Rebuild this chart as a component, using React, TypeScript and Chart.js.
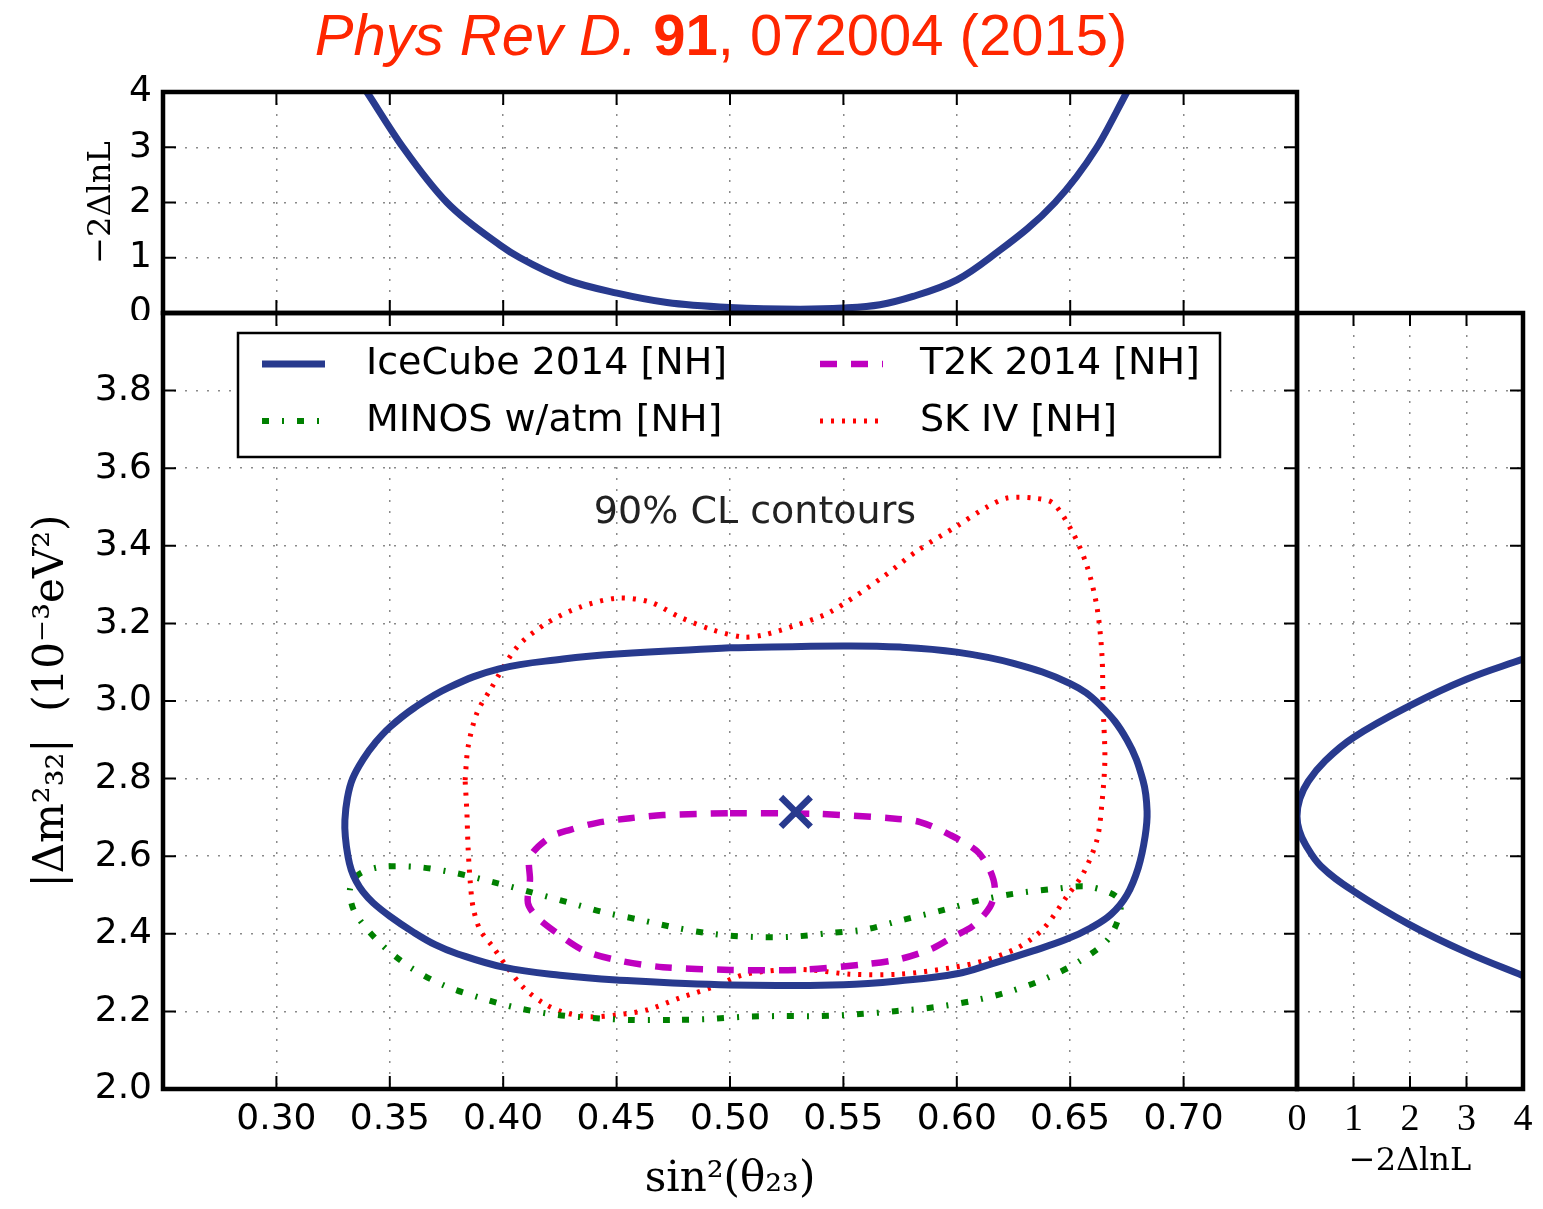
import React, { useEffect, useRef } from 'react';
import { Chart, registerables } from 'chart.js';

Chart.register(...registerables);
Chart.defaults.font.family = "'DejaVu Sans', sans-serif";
Chart.defaults.color = '#000';

// ---------- tick values ----------
const sinTicks = [0.30, 0.35, 0.40, 0.45, 0.50, 0.55, 0.60, 0.65, 0.70];
const dmTicks = [2.0, 2.2, 2.4, 2.6, 2.8, 3.0, 3.2, 3.4, 3.6, 3.8];
const llTicks = [0, 1, 2, 3, 4];

// ---------- best fit ----------
const bestFitS = [0.529];
const bestFitDm = [2.714];

// ---------- IceCube 2014 [NH] 90% contour ----------
const icecubeS = [0.500, 0.550, 0.575, 0.600, 0.625, 0.650, 0.6631, 0.675, 0.6821, 0.6839, 0.6830, 0.680, 0.675, 0.668, 0.659, 0.648, 0.6336, 0.615, 0.600, 0.575, 0.550, 0.500, 0.450, 0.425, 0.400, 0.380, 0.370, 0.3602, 0.3501, 0.3426, 0.3382, 0.3352, 0.3330, 0.3316, 0.3304, 0.3302, 0.3313, 0.3336, 0.3386, 0.3435, 0.3501, 0.3607, 0.3757, 0.3982, 0.4264, 0.450, 0.500];
const icecubeDm = [3.137, 3.142, 3.139, 3.126, 3.097, 3.045, 2.990, 2.900, 2.795, 2.716, 2.650, 2.570, 2.500, 2.450, 2.415, 2.385, 2.356, 2.322, 2.297, 2.279, 2.269, 2.268, 2.281, 2.293, 2.314, 2.348, 2.372, 2.405, 2.445, 2.480, 2.508, 2.535, 2.565, 2.598, 2.650, 2.693, 2.750, 2.800, 2.853, 2.892, 2.933, 2.982, 3.034, 3.083, 3.108, 3.121, 3.137];

// ---------- T2K 2014 [NH] ----------
const t2kS = [0.5000, 0.5384, 0.5705, 0.5838, 0.5970, 0.6089, 0.6146, 0.6168, 0.6146, 0.6071, 0.5983, 0.5895, 0.5750, 0.5604, 0.5309, 0.5000, 0.4705, 0.4502, 0.4352, 0.4237, 0.4149, 0.4109, 0.4118, 0.4118, 0.4206, 0.4295, 0.4414, 0.4559, 0.4705, 0.5000];
const t2kDm = [2.711, 2.709, 2.698, 2.688, 2.655, 2.613, 2.564, 2.515, 2.469, 2.420, 2.392, 2.363, 2.335, 2.322, 2.307, 2.307, 2.314, 2.332, 2.358, 2.402, 2.443, 2.479, 2.539, 2.598, 2.649, 2.668, 2.686, 2.698, 2.706, 2.711];

// ---------- MINOS w/atm [NH] ----------
const minosS = [0.4735, 0.4559, 0.4396, 0.4237, 0.4061, 0.3898, 0.3735, 0.3589, 0.3457, 0.3347, 0.3324, 0.3360, 0.3457, 0.3624, 0.3787, 0.3951, 0.4118, 0.4281, 0.4440, 0.4603, 0.4766, 0.4934, 0.5101, 0.5265, 0.5441, 0.5604, 0.5763, 0.5926, 0.6089, 0.6248, 0.6420, 0.6587, 0.6720, 0.6675, 0.6543, 0.6389, 0.6226, 0.6067, 0.5904, 0.5736, 0.5573, 0.5397, 0.5220, 0.5057, 0.4899, 0.4735];
const minosDm = [2.178, 2.178, 2.183, 2.191, 2.209, 2.235, 2.268, 2.314, 2.376, 2.454, 2.513, 2.552, 2.572, 2.572, 2.557, 2.534, 2.508, 2.482, 2.456, 2.436, 2.415, 2.399, 2.392, 2.392, 2.402, 2.412, 2.436, 2.459, 2.485, 2.503, 2.515, 2.521, 2.485, 2.392, 2.330, 2.284, 2.250, 2.227, 2.211, 2.201, 2.193, 2.188, 2.188, 2.186, 2.180, 2.178];

// ---------- SK IV [NH] ----------
const skS = [0.3832, 0.3845, 0.3884, 0.3942, 0.4061, 0.4193, 0.4339, 0.4502, 0.4647, 0.4780, 0.4925, 0.5057, 0.5146, 0.5295, 0.5441, 0.5675, 0.5825, 0.6001, 0.6133, 0.6221, 0.6336, 0.6424, 0.6512, 0.6574, 0.6618, 0.6640, 0.6645, 0.6653, 0.6640, 0.6618, 0.6556, 0.6486, 0.6380, 0.6265, 0.6116, 0.5970, 0.5750, 0.5529, 0.5353, 0.5220, 0.5057, 0.4925, 0.4780, 0.4634, 0.4502, 0.4383, 0.4264, 0.4175, 0.4087, 0.4017, 0.3955, 0.3898, 0.3867, 0.3854, 0.3845, 0.3840, 0.3832];
const skDm = [2.796, 2.881, 2.969, 3.028, 3.139, 3.201, 3.242, 3.265, 3.255, 3.216, 3.183, 3.165, 3.170, 3.196, 3.229, 3.320, 3.387, 3.451, 3.500, 3.523, 3.523, 3.510, 3.433, 3.348, 3.242, 3.119, 2.985, 2.851, 2.737, 2.642, 2.554, 2.497, 2.412, 2.363, 2.330, 2.312, 2.296, 2.296, 2.307, 2.307, 2.294, 2.263, 2.235, 2.204, 2.191, 2.186, 2.198, 2.222, 2.263, 2.314, 2.366, 2.410, 2.469, 2.539, 2.624, 2.711, 2.796];

// ---------- IceCube profile in sin^2 ----------
const profS = [0.3399, 0.3558, 0.3752, 0.3986, 0.4074, 0.4281, 0.4502, 0.4722, 0.5000, 0.5309, 0.5498, 0.5661, 0.5807, 0.6001, 0.6146, 0.6433, 0.6618, 0.6750];
const profSLL = [4.0, 3.0, 2.0, 1.23, 1.0, 0.60, 0.36, 0.19, 0.10, 0.07, 0.09, 0.15, 0.30, 0.60, 1.0, 2.0, 3.0, 4.0];

// ---------- IceCube profile in dm^2 ----------
const profDm = [3.108, 3.056, 2.988, 2.906, 2.846, 2.793, 2.748, 2.703, 2.666, 2.630, 2.575, 2.510, 2.423, 2.352, 2.292];
const profDmLL = [4.0, 3.0, 2.0, 1.0, 0.50, 0.20, 0.05, 0.0, 0.04, 0.15, 0.42, 1.0, 2.0, 3.0, 4.0];

const NAVY = '#283a8e';
const MAGENTA = '#bf00bf';
const GREEN = '#008000';
const RED = '#ff0000';
const GRIDC = '#8a8a8a';

const pts = (xs: number[], ys: number[]) => xs.map((x, i) => ({ x, y: ys[i] }));

const fixedAxis = (size: number, horizontal: boolean) => (s: any) => {
  if (horizontal) s.height = size; else s.width = size;
  s.paddingTop = 0; s.paddingBottom = 0; s.paddingLeft = 0; s.paddingRight = 0;
};
const setTicks = (vals: number[]) => (s: any) => { s.ticks = vals.map((v) => ({ value: v })); };

const gridOpts = { color: GRIDC, lineWidth: 1.5, drawTicks: false };
const borderOpts = { display: false, dash: [2, 9] };

function framePlugin(id: string, sides: { top?: boolean; bottom?: boolean; left?: boolean; right?: boolean }) {
  return {
    id,
    afterDraw(chart: any) {
      const { ctx, chartArea: a } = chart;
      const xs = chart.scales.x;
      const ys = chart.scales.y;
      const L = 13;
      ctx.save();
      ctx.setLineDash([]);
      ctx.strokeStyle = '#000';
      ctx.lineWidth = 2;
      ctx.beginPath();
      for (const t of xs.ticks) {
        const px = xs.getPixelForValue(t.value);
        if (sides.bottom) { ctx.moveTo(px, a.bottom); ctx.lineTo(px, a.bottom - L); }
        if (sides.top) { ctx.moveTo(px, a.top); ctx.lineTo(px, a.top + L); }
      }
      for (const t of ys.ticks) {
        const py = ys.getPixelForValue(t.value);
        if (sides.left) { ctx.moveTo(a.left, py); ctx.lineTo(a.left + L, py); }
        if (sides.right) { ctx.moveTo(a.right, py); ctx.lineTo(a.right - L, py); }
      }
      ctx.stroke();
      ctx.lineWidth = 4.5;
      ctx.strokeRect(a.left, a.top, a.right - a.left, a.bottom - a.top);
      ctx.restore();
    },
  };
}

const legendPlugin = {
  id: 'boxLegend',
  afterDatasetsDraw(chart: any) {
    const { ctx, chartArea: a } = chart;
    const ds = chart.data.datasets;
    ctx.save();
    const bx = a.left + 75, by = a.top + 20, bw = 982, bh = 124;
    ctx.fillStyle = '#fff';
    ctx.fillRect(bx, by, bw, bh);
    ctx.strokeStyle = '#000';
    ctx.lineWidth = 2.5;
    ctx.setLineDash([]);
    ctx.strokeRect(bx, by, bw, bh);
    const entries = [
      { i: 1, col: 0, row: 0 },
      { i: 2, col: 1, row: 0 },
      { i: 3, col: 0, row: 1 },
      { i: 4, col: 1, row: 1 },
    ];
    const colSample = [a.left + 99, a.left + 657];
    const colText = [a.left + 203, a.left + 757];
    const rowY = [a.top + 51, a.top + 108];
    for (const e of entries) {
      const d = ds[e.i];
      const y = rowY[e.row];
      ctx.beginPath();
      ctx.strokeStyle = d.borderColor;
      ctx.lineWidth = d.borderWidth;
      ctx.setLineDash(d.borderDash || []);
      ctx.moveTo(colSample[e.col], y);
      ctx.lineTo(colSample[e.col] + 63, y);
      ctx.stroke();
      ctx.setLineDash([]);
      ctx.fillStyle = '#000';
      ctx.font = "38px 'DejaVu Sans', sans-serif";
      ctx.textAlign = 'left';
      ctx.textBaseline = 'middle';
      ctx.fillText(d.label, colText[e.col], y);
    }
    const xs = chart.scales.x, ys = chart.scales.y;
    ctx.fillStyle = '#222';
    ctx.textAlign = 'center';
    ctx.fillText('90% CL contours', xs.getPixelForValue(0.511), ys.getPixelForValue(3.485));
    ctx.restore();
  },
};

function ChartCanvas({ left, top, width, height, make }: any) {
  const ref = useRef<HTMLCanvasElement | null>(null);
  useEffect(() => {
    const c = new Chart(ref.current as HTMLCanvasElement, make());
    return () => c.destroy();
  }, []);
  return (
    <canvas
      ref={ref}
      width={width}
      height={height}
      style={{ position: 'absolute', left, top, width, height }}
    />
  );
}

const baseOpts = {
  animation: false,
  responsive: false,
  devicePixelRatio: 1,
  events: [],
  plugins: { legend: { display: false }, tooltip: { enabled: false } },
};

const contourDs = (label: string, xs: number[], ys: number[], color: string, width: number, dash: number[], tension: number) => ({
  label,
  data: pts(xs, ys),
  showLine: true,
  borderColor: color,
  borderWidth: width,
  borderDash: dash,
  pointRadius: 0,
  tension,
  fill: false,
});

const makeMain = () => ({
  type: 'scatter',
  data: {
    datasets: [
      {
        label: 'best fit',
        data: pts(bestFitS, bestFitDm),
        showLine: false,
        pointStyle: 'crossRot',
        pointRadius: 21,
        pointBorderWidth: 6.5,
        pointBorderColor: NAVY,
        borderColor: NAVY,
        borderWidth: 6.5,
      },
      contourDs('IceCube 2014 [NH]', icecubeS, icecubeDm, NAVY, 7, [], 0.4),
      contourDs('T2K 2014 [NH]', t2kS, t2kDm, MAGENTA, 6.5, [17, 14], 0.3),
      contourDs('MINOS w/atm [NH]', minosS, minosDm, GREEN, 6, [7, 13, 2, 13], 0.3),
      contourDs('SK IV [NH]', skS, skDm, RED, 5, [3, 8], 0.3),
    ],
  },
  options: {
    ...baseOpts,
    layout: { autoPadding: false, padding: { top: 13, right: 13, left: 0, bottom: 0 } },
    scales: {
      x: {
        type: 'linear', min: 0.25, max: 0.75,
        afterBuildTicks: setTicks(sinTicks), afterFit: fixedAxis(120, true),
        grid: gridOpts, border: borderOpts,
        ticks: { padding: 9, font: { size: 36 }, maxRotation: 0, minRotation: 0, autoSkip: false, callback: (v: any) => Number(v).toFixed(2) },
        title: { display: true, text: 'sin²(θ₂₃)', font: { family: "'DejaVu Serif', serif", size: 42 }, padding: { top: 0, bottom: 4 } },
      },
      y: {
        type: 'linear', min: 2, max: 4,
        afterBuildTicks: setTicks(dmTicks), afterFit: fixedAxis(163, false),
        grid: gridOpts, border: borderOpts,
        ticks: { padding: 11, font: { size: 36 }, autoSkip: false, callback: (v: any) => Number(v).toFixed(1) },
        title: { display: true, text: '|Δm²₃₂|  (10⁻³eV²)', font: { family: "'DejaVu Serif', serif", size: 42 }, padding: { top: 27, bottom: 0 } },
      },
    },
  },
  plugins: [legendPlugin, framePlugin('frameMain', { top: true, bottom: true, left: true, right: true })],
});

const makeTop = () => ({
  type: 'scatter',
  data: {
    datasets: [
      { label: 'IceCube profile', data: pts(profS, profSLL), showLine: true, borderColor: NAVY, borderWidth: 7, pointRadius: 0, cubicInterpolationMode: 'monotone', fill: false },
    ],
  },
  options: {
    ...baseOpts,
    layout: { autoPadding: false, padding: { top: 42, right: 13, left: 0, bottom: 0 } },
    scales: {
      x: {
        type: 'linear', min: 0.25, max: 0.75,
        afterBuildTicks: setTicks(sinTicks), afterFit: fixedAxis(7, true),
        grid: gridOpts, border: borderOpts,
        ticks: { display: false },
      },
      y: {
        type: 'linear', min: 0, max: 4,
        afterBuildTicks: setTicks(llTicks), afterFit: fixedAxis(163, false),
        grid: gridOpts, border: borderOpts,
        ticks: { padding: 11, font: { size: 36 }, autoSkip: false, callback: (v: any) => String(v) },
        title: { display: true, text: '−2ΔlnL', font: { family: "'DejaVu Serif', serif", size: 32 }, padding: { top: 82, bottom: 0 } },
      },
    },
  },
  plugins: [framePlugin('frameTop', { top: true, bottom: true, left: true, right: true })],
});

const makeRight = () => ({
  type: 'scatter',
  data: {
    datasets: [
      { label: 'IceCube profile dm', data: pts(profDmLL, profDm), showLine: true, borderColor: NAVY, borderWidth: 7, pointRadius: 0, tension: 0.4, fill: false },
    ],
  },
  options: {
    ...baseOpts,
    layout: { autoPadding: false, padding: { top: 13, right: 20, left: 20, bottom: 0 } },
    scales: {
      x: {
        type: 'linear', min: 0, max: 4,
        afterBuildTicks: setTicks(llTicks), afterFit: fixedAxis(120, true),
        grid: gridOpts, border: borderOpts,
        ticks: { padding: 8, font: { family: "'Liberation Serif', serif", size: 38 }, maxRotation: 0, minRotation: 0, autoSkip: false, callback: (v: any) => String(v) },
        title: { display: true, text: '−2ΔlnL', font: { family: "'DejaVu Serif', serif", size: 32 }, padding: { top: 0, bottom: 28 } },
      },
      y: {
        type: 'linear', min: 2, max: 4,
        afterBuildTicks: setTicks(dmTicks), afterFit: fixedAxis(0, false),
        grid: gridOpts, border: borderOpts,
        ticks: { display: false },
      },
    },
  },
  plugins: [framePlugin('frameRight', { top: true, bottom: true, right: true })],
});

export default function App() {
  return (
    <div style={{ position: 'absolute', left: 0, top: 0, width: 1543, height: 1209, background: '#fff', overflow: 'hidden' }}>
      <div
        style={{
          position: 'absolute', left: 0, top: 6, width: 1442, textAlign: 'center',
          fontFamily: "'Liberation Sans', Arial, sans-serif", fontSize: 58, lineHeight: '58px', color: '#ff2600',
          whiteSpace: 'nowrap',
        }}
      >
        <i>Phys Rev D.</i> <b>91</b>, 072004 (2015)
      </div>
      <ChartCanvas left={0} top={50} width={1310} height={270} make={makeTop} />
      <ChartCanvas left={0} top={300} width={1310} height={909} make={makeMain} />
      <ChartCanvas left={1277} top={300} width={266} height={909} make={makeRight} />
    </div>
  );
}
